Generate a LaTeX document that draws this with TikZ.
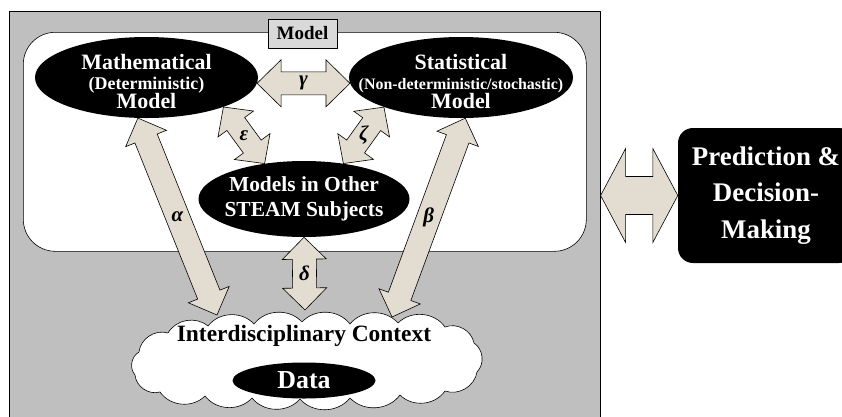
\documentclass[tikz,border=0pt]{standalone}
\usepackage{fontspec}
\setmainfont{Liberation Serif}
\usetikzlibrary{calc,shapes.geometric}
\definecolor{panelgray}{HTML}{BFBFBF}
\definecolor{tagfill}{HTML}{D9D9D9}
\definecolor{arrowbeige}{HTML}{E2DDD0}
\tikzset{
    modelnode/.style={ellipse, fill=black, inner sep=0pt},
    modeltext/.style={text=white, align=center, inner sep=0pt,
        font=\fontsize{22}{20}\selectfont\bfseries},
    greek/.style={inner sep=0pt, font=\fontsize{21}{21}\selectfont\bfseries\itshape},
    blockarrow/.style={draw=black, fill=arrowbeige, line width=0.6pt, line join=miter},
    cloudline/.style={draw=black, fill=white, line width=0.6pt}
}
% double-headed block arrow: from, to, shaft half width, head half width, head length
\newcommand{\linkarrow}[5]{%
  \coordinate (ta) at (#1);
  \coordinate (tb) at (#2);
  \coordinate (pa) at ($(ta)!#5!(tb)$);
  \coordinate (pb) at ($(tb)!#5!(ta)$);
  \draw[blockarrow] (ta) -- ($(pa)!#4!90:(tb)$) -- ($(pa)!#3!90:(tb)$)
    -- ($(pb)!#3!-90:(ta)$) -- ($(pb)!#4!-90:(ta)$) -- (tb)
    -- ($(pb)!#4!90:(ta)$) -- ($(pb)!#3!90:(ta)$)
    -- ($(pa)!#3!-90:(tb)$) -- ($(pa)!#4!-90:(tb)$) -- cycle;
}

\begin{document}
\begin{tikzpicture}[x=1bp, y=-1bp, line cap=round, line join=round]

\useasboundingbox (0,0) rectangle (842,416);

% panels
\node[draw, fill=panelgray, line width=0.6pt, minimum width=591bp, minimum height=415bp,
      anchor=north west] (outer) at (9,11) {};
\node[draw, fill=white, line width=0.6pt, rounded corners=32bp, minimum width=563bp,
      minimum height=219bp, anchor=north west] (modelpanel) at (23,32) {};
\node[draw, fill=tagfill, line width=0.6pt, minimum width=69bp, minimum height=29bp,
      inner sep=0pt, font=\fontsize{19}{19}\selectfont\bfseries] (tag) at (302.5,33.5) {Model};

% models
\node[modelnode, minimum width=223bp, minimum height=81bp] (math) at (146.5,77.5) {};
\node[modeltext] (mathtxt) at ([yshift=-4bp]math.center)
  {Mathematical\\{\fontsize{18}{20}\selectfont (Deterministic)}\\Model};
\node[modelnode, minimum width=224bp, minimum height=81bp] (stat) at (461,77.5) {};
\node[modeltext] (stattxt) at ([yshift=-4bp]stat.center)
  {Statistical\\{\fontsize{16}{20}\selectfont (Non-deterministic/stochastic)}\\Model};
\node[modelnode, minimum width=211bp, minimum height=76bp] (other) at (304,199) {};
\node[modeltext, font=\fontsize{21.5}{25}\selectfont\bfseries] (othertxt) at (other.center)
  {Models in Other\\STEAM Subjects};

% context cloud and data
\coordinate (ctx) at (305,361);
\draw[cloudline] (477,372)
  \foreach \x/\y in {474/343, 445/327, 398/323, 350/324, 302/322, 254/324, 208/326,
                     168/333, 139/352, 135/375, 160/392, 205/396, 252/398, 300/399,
                     350/398, 400/395, 445/391, 477/372} { to[bend right=50] (\x,\y) };
\node[inner sep=0pt, font=\fontsize{23.5}{24}\selectfont\bfseries] (ctxtxt) at (304,336)
  {Interdisciplinary Context};
\node[modelnode, minimum width=143bp, minimum height=36bp] (data) at (304,380.5) {};
\node[modeltext, font=\fontsize{26}{26}\selectfont\bfseries] (datatxt) at (data.center) {Data};

% outcome
\node[fill=black, rounded corners=15bp, minimum width=176bp, minimum height=135bp,
      text=white, align=center, inner sep=0pt,
      font=\fontsize{27}{36.5}\selectfont\bfseries] (decide) at (766,195.5)
  {Prediction \&\\Decision-\\Making};

\coordinate (ctxalpha) at ([xshift=-88bp, yshift=46bp]ctx);
\coordinate (ctxdelta) at ([yshift=51bp]ctx);
\coordinate (ctxbeta) at ([xshift=87bp, yshift=44bp]ctx);

% links
\linkarrow{math.-3}{stat.183}{11.5bp}{23.5bp}{24bp}
\node[greek] (lgamma) at ($(ta)!0.5!(tb)$) {γ};
\linkarrow{math.-21.5}{other.138}{11bp}{22bp}{21bp}
\node[greek] (lepsilon) at ($(ta)!0.5!(tb)$) {ε};
\linkarrow{stat.-159}{other.42}{11bp}{22bp}{21bp}
\node[greek] (lzeta) at ($(ta)!0.5!(tb)$) {ζ};
\linkarrow{math.-102}{ctxalpha}{12bp}{22bp}{22bp}
\node[greek] (lalpha) at ($(ta)!0.5!(tb)$) {α};
\linkarrow{stat.-84}{ctxbeta}{12bp}{22bp}{22bp}
\node[greek] (lbeta) at ($(ta)!0.5!(tb)$) {β};
\linkarrow{other.south}{ctxdelta}{12bp}{22bp}{22bp}
\node[greek] (ldelta) at ($(ta)!0.5!(tb)$) {δ};
\linkarrow{decide.west -| outer.east}{decide.west}{19bp}{47bp}{25bp}

\end{tikzpicture}
\end{document}
